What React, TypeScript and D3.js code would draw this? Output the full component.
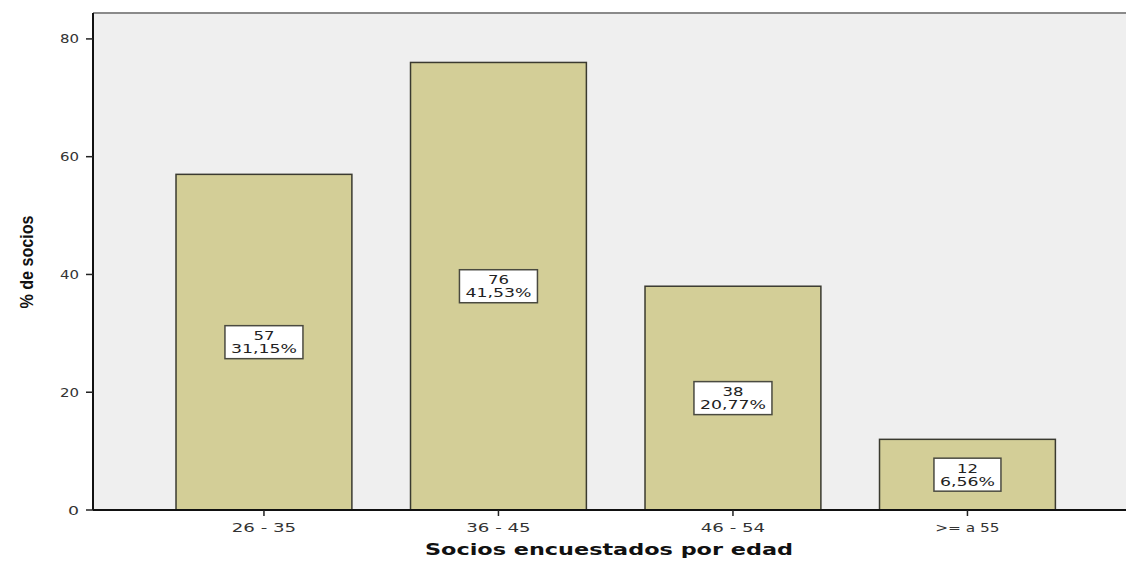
import React from "react";
import * as d3 from "d3";

// Age groups of surveyed members and the number of members in each group
const categories = ["26 - 35", "36 - 45", "46 - 54", ">= a 55"];
const counts = [57, 76, 38, 12];
const yTicks = [0, 20, 40, 60, 80];

const W = 1126;
const H = 564;
const frame = { left: 93, top: 13, right: 1126, bottom: 510 };

const total = d3.sum(counts);
const pctLabel = (v: number) => ((v / total) * 100).toFixed(2).replace(".", ",") + "%";

export default function App() {
  const y = d3.scaleLinear().domain([0, 84.4]).range([frame.bottom, frame.top]);
  const x = d3
    .scaleBand<string>()
    .domain(categories)
    .range([146.7, 1084.7])
    .paddingInner(0.25)
    .paddingOuter(0.125);

  const tickFont = "'DejaVu Sans', 'Liberation Sans', sans-serif";

  return (
    <svg
      width={W}
      height={H}
      style={{ position: "absolute", left: 0, top: 0, display: "block", background: "#ffffff" }}
    >
      {/* plot background */}
      <rect
        x={frame.left}
        y={frame.top}
        width={frame.right - frame.left}
        height={frame.bottom - frame.top}
        fill="#efefef"
      />
      {/* top border */}
      <line x1={frame.left} x2={frame.right} y1={frame.top} y2={frame.top} stroke="#8a8a8a" strokeWidth={2} />

      {/* bars */}
      {categories.map((c, i) => {
        const x0 = x(c)!;
        const y0 = y(counts[i]);
        return (
          <rect
            key={c}
            x={x0}
            y={y0}
            width={x.bandwidth()}
            height={y(0) - y0}
            fill="#d3ce97"
            stroke="#3a3a30"
            strokeWidth={1.5}
          />
        );
      })}

      {/* value labels */}
      {categories.map((c, i) => {
        const cx = x(c)! + x.bandwidth() / 2;
        const cy = (y(counts[i]) + y(0)) / 2;
        const numText = String(counts[i]);
        const pctText = pctLabel(counts[i]);
        const pctW = pctText.length * 11;
        const numW = numText.length * 10.5;
        const boxW = pctW + 12;
        const boxH = 33;
        return (
          <g key={"lab" + c}>
            <rect
              x={cx - boxW / 2}
              y={cy - boxH / 2}
              width={boxW}
              height={boxH}
              fill="#ffffff"
              stroke="#4a4a40"
              strokeWidth={1.5}
            />
            <text
              x={cx}
              y={cy - 2}
              textAnchor="middle"
              fontFamily={tickFont}
              fontSize={12}
              fill="#222"
              textLength={numW}
              lengthAdjust="spacingAndGlyphs"
            >
              {numText}
            </text>
            <text
              x={cx}
              y={cy + 11}
              textAnchor="middle"
              fontFamily={tickFont}
              fontSize={12}
              fill="#222"
              textLength={pctW}
              lengthAdjust="spacingAndGlyphs"
            >
              {pctText}
            </text>
          </g>
        );
      })}

      {/* y axis */}
      <line x1={frame.left} x2={frame.left} y1={frame.top} y2={frame.bottom} stroke="#111" strokeWidth={2} />
      {yTicks.map((t) => (
        <g key={"yt" + t}>
          <line x1={frame.left - 7} x2={frame.left} y1={y(t)} y2={y(t)} stroke="#222" strokeWidth={1.5} />
          <text
            x={frame.left - 14}
            y={y(t) + 4.5}
            textAnchor="end"
            fontFamily={tickFont}
            fontSize={12}
            fill="#333"
            textLength={String(t).length === 1 ? 11 : 19}
            lengthAdjust="spacingAndGlyphs"
          >
            {t}
          </text>
        </g>
      ))}

      {/* x axis */}
      <line x1={frame.left} x2={frame.right} y1={frame.bottom} y2={frame.bottom} stroke="#111" strokeWidth={2} />
      {categories.map((c) => {
        const cx = x(c)! + x.bandwidth() / 2;
        return (
          <g key={"xt" + c}>
            <line x1={cx} x2={cx} y1={frame.bottom} y2={frame.bottom + 6} stroke="#222" strokeWidth={1.5} />
            <text
              x={cx}
              y={532}
              textAnchor="middle"
              fontFamily={tickFont}
              fontSize={12}
              fill="#333"
              textLength={c.length * 9.2}
              lengthAdjust="spacingAndGlyphs"
            >
              {c}
            </text>
          </g>
        );
      })}

      {/* axis titles */}
      <text
        x={425}
        y={555}
        fontFamily={tickFont}
        fontWeight="bold"
        fontSize={16}
        fill="#111"
        textLength={368}
        lengthAdjust="spacingAndGlyphs"
      >
        Socios encuestados por edad
      </text>
      <text
        transform={`translate(33, 262) rotate(-90)`}
        textAnchor="middle"
        fontFamily="'Liberation Sans Narrow', 'Liberation Sans', sans-serif"
        fontWeight="bold"
        fontSize={19}
        fill="#111"
        textLength={93}
        lengthAdjust="spacingAndGlyphs"
      >
        % de socios
      </text>
    </svg>
  );
}
